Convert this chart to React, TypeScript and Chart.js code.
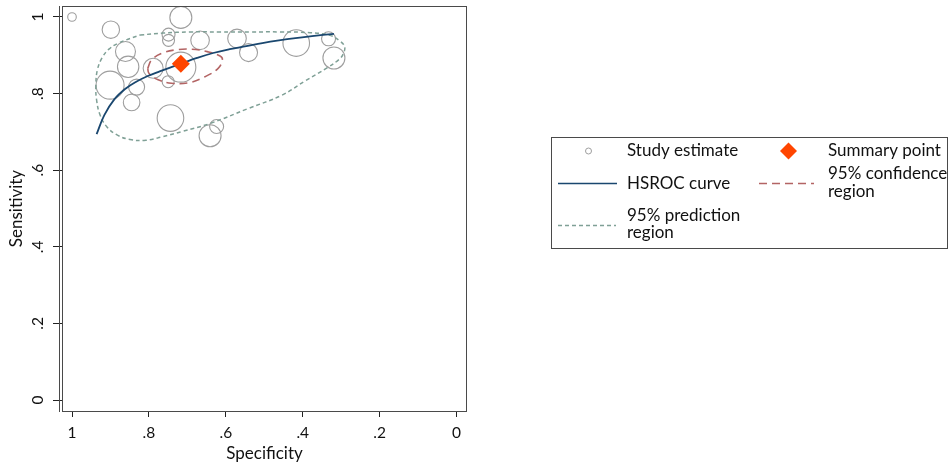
import React, { useEffect, useRef } from "react";
import { Chart, registerables } from "chart.js";

Chart.register(...registerables);

// ---- data ----
const studySpec = [1.0, 0.899, 0.717, 0.749, 0.749, 0.667, 0.571, 0.541, 0.417, 0.333, 0.319, 0.861, 0.854, 0.901, 0.832, 0.845, 0.789, 0.75, 0.717, 0.744, 0.641, 0.624];
const studySens = [1.0, 0.967, 0.999, 0.954, 0.939, 0.939, 0.944, 0.907, 0.932, 0.943, 0.893, 0.91, 0.87, 0.822, 0.817, 0.777, 0.866, 0.831, 0.869, 0.736, 0.69, 0.714];
const studyWeight = [4.3, 8.7, 11, 6.5, 6, 9.3, 9.3, 9, 13.3, 7, 11, 10, 10.7, 14, 8, 8.3, 10, 6, 15, 13.3, 11, 7];

const summarySpec = [0.717];
const summarySens = [0.878];

const hsrocSpec = [0.936, 0.916, 0.89, 0.862, 0.833, 0.803, 0.772, 0.745, 0.717, 0.675, 0.633, 0.59, 0.547, 0.505, 0.462, 0.419, 0.376, 0.319];
const hsrocSens = [0.694, 0.744, 0.785, 0.812, 0.831, 0.846, 0.858, 0.868, 0.878, 0.893, 0.906, 0.916, 0.924, 0.932, 0.939, 0.945, 0.95, 0.956];

const confSpec = [0.803, 0.793, 0.767, 0.732, 0.689, 0.646, 0.615, 0.609, 0.62, 0.654, 0.698, 0.741, 0.776, 0.8, 0.803];
const confSens = [0.866, 0.888, 0.905, 0.914, 0.916, 0.909, 0.898, 0.888, 0.866, 0.844, 0.828, 0.827, 0.836, 0.853, 0.866];

const predSpec = [0.823, 0.763, 0.693, 0.615, 0.537, 0.459, 0.381, 0.329, 0.303, 0.291, 0.295, 0.306, 0.337, 0.394, 0.454, 0.542, 0.641, 0.714, 0.766, 0.808, 0.849, 0.883, 0.909, 0.927, 0.936, 0.938, 0.934, 0.922, 0.904, 0.879, 0.823];
const predSens = [0.953, 0.958, 0.961, 0.961, 0.961, 0.961, 0.959, 0.952, 0.937, 0.922, 0.903, 0.889, 0.867, 0.833, 0.796, 0.761, 0.722, 0.701, 0.687, 0.678, 0.68, 0.692, 0.713, 0.744, 0.783, 0.822, 0.862, 0.893, 0.916, 0.932, 0.953];

const xTicks = [1, 0.8, 0.6, 0.4, 0.2, 0];
const xTickLabels = ["1", ".8", ".6", ".4", ".2", "0"];
const yTicks = [0, 0.2, 0.4, 0.6, 0.8, 1];
const yTickLabels = ["0", ".2", ".4", ".6", ".8", "1"];

const legendLabels = ["Study estimate", "Summary point", "HSROC curve", ["95% confidence", "region"], ["95% prediction", "region"]];

// ---- styles ----
const FONT = "Lato, 'DejaVu Sans', sans-serif";
const TEXT = "#111111";
const CIRCLE = "#9e9e9e";
const NAVY = "#1a476f";
const ORANGE = "#ff4500";
const CONF = "#b36464";
const PRED = "#7fa096";
const FRAME = "#4a4a4a";

const zip = (xs: number[], ys: number[]) => xs.map((x, i) => ({ x, y: ys[i] }));

const decorPlugin = {
  id: "decor",
  afterDraw(chart: any) {
    const ctx = chart.ctx as CanvasRenderingContext2D;
    const { left, top, right, bottom } = chart.chartArea;
    const ys = chart.scales.y;
    ctx.save();
    // plot frame
    ctx.strokeStyle = FRAME;
    ctx.lineWidth = 1;
    ctx.strokeRect(left + 0.5, top + 0.5, right - left - 1, bottom - top);
    // y axis line (offset)
    ctx.beginPath();
    ctx.moveTo(59.5, top);
    ctx.lineTo(59.5, bottom + 1);
    ctx.stroke();
    // y tick labels, rotated
    ctx.fillStyle = TEXT;
    ctx.font = `15.5px ${FONT}`;
    ctx.textAlign = "center";
    ctx.textBaseline = "middle";
    yTicks.forEach((v, i) => {
      const py = ys.getPixelForValue(v);
      ctx.save();
      ctx.translate(38, py);
      ctx.rotate(-Math.PI / 2);
      ctx.fillText(yTickLabels[i], 0, 0);
      ctx.restore();
    });

    // legend
    const lx = 551.5, ly = 137.5, lw = 396, lh = 111;
    ctx.strokeStyle = FRAME;
    ctx.lineWidth = 1;
    ctx.strokeRect(lx, ly, lw, lh);
    ctx.font = `17px ${FONT}`;
    ctx.textAlign = "left";
    ctx.fillStyle = TEXT;

    // row 1
    ctx.strokeStyle = CIRCLE;
    ctx.lineWidth = 1;
    ctx.beginPath();
    ctx.arc(588.5, 151, 3, 0, Math.PI * 2);
    ctx.stroke();
    ctx.fillText(legendLabels[0] as string, 627, 151);
    ctx.fillStyle = ORANGE;
    ctx.beginPath();
    ctx.moveTo(788.5, 142.5);
    ctx.lineTo(797, 151);
    ctx.lineTo(788.5, 159.5);
    ctx.lineTo(780, 151);
    ctx.closePath();
    ctx.fill();
    ctx.fillStyle = TEXT;
    ctx.fillText(legendLabels[1] as string, 828, 151);

    // row 2
    ctx.strokeStyle = NAVY;
    ctx.lineWidth = 1.6;
    ctx.beginPath();
    ctx.moveTo(558, 183.5);
    ctx.lineTo(617, 183.5);
    ctx.stroke();
    ctx.fillText(legendLabels[2] as string, 627, 183.5);
    ctx.strokeStyle = CONF;
    ctx.setLineDash([8, 5]);
    ctx.beginPath();
    ctx.moveTo(759, 183.5);
    ctx.lineTo(814, 183.5);
    ctx.stroke();
    const conf = legendLabels[3] as string[];
    ctx.fillText(conf[0], 828, 174);
    ctx.fillText(conf[1], 828, 192);

    // row 3
    ctx.strokeStyle = PRED;
    ctx.lineWidth = 1.5;
    ctx.setLineDash([4, 3]);
    ctx.beginPath();
    ctx.moveTo(558, 225.5);
    ctx.lineTo(616, 225.5);
    ctx.stroke();
    ctx.setLineDash([]);
    const pred = legendLabels[4] as string[];
    ctx.fillText(pred[0], 627, 216);
    ctx.fillText(pred[1], 627, 233);
    ctx.restore();
  },
};

export default function App() {
  const ref = useRef<HTMLCanvasElement | null>(null);
  useEffect(() => {
    if (!ref.current) return;
    const chart = new Chart(ref.current, {
      type: "scatter",
      data: {
        datasets: [
          {
            type: "scatter",
            label: "Summary point",
            data: zip(summarySpec, summarySens),
            pointStyle: "rectRot",
            pointRadius: 9,
            backgroundColor: ORANGE,
            borderColor: ORANGE,
            borderWidth: 0,
            order: 0,
          } as any,
          {
            type: "scatter",
            label: "HSROC curve",
            data: zip(hsrocSpec, hsrocSens),
            showLine: true,
            pointRadius: 0,
            borderColor: NAVY,
            borderWidth: 1.8,
            tension: 0.4,
            order: 1,
          } as any,
          {
            type: "scatter",
            label: "95% confidence region",
            data: zip(confSpec, confSens),
            showLine: true,
            pointRadius: 0,
            borderColor: CONF,
            borderWidth: 1.6,
            borderDash: [8, 5],
            tension: 0.4,
            order: 2,
          } as any,
          {
            type: "scatter",
            label: "95% prediction region",
            data: zip(predSpec, predSens),
            showLine: true,
            pointRadius: 0,
            borderColor: PRED,
            borderWidth: 1.5,
            borderDash: [4, 3],
            tension: 0.4,
            order: 3,
          } as any,
          {
            type: "bubble",
            label: "Study estimate",
            data: studySpec.map((x, i) => ({ x, y: studySens[i], r: studyWeight[i] })),
            backgroundColor: "rgba(0,0,0,0)",
            borderColor: CIRCLE,
            borderWidth: 1.1,
            order: 4,
          } as any,
        ],
      },
      options: {
        animation: false,
        responsive: false,
        devicePixelRatio: 1,
        layout: { autoPadding: false, padding: { left: 0, top: 6, right: 485, bottom: 0 } },
        plugins: { legend: { display: false }, tooltip: { enabled: false } },
        scales: {
          x: {
            type: "linear",
            reverse: true,
            min: -0.027,
            max: 1.026,
            afterBuildTicks: (s: any) => {
              s.ticks = xTicks.map((value) => ({ value }));
            },
            afterFit: (s: any) => {
              s.height = 57;
            },
            ticks: {
              autoSkip: false,
              maxRotation: 0,
              padding: 7,
              color: TEXT,
              font: { family: FONT, size: 15.5 },
              callback: (v: any) => {
                const i = xTicks.findIndex((t) => Math.abs(t - Number(v)) < 1e-9);
                return i >= 0 ? xTickLabels[i] : "";
              },
            },
            grid: { display: true, drawOnChartArea: false, drawTicks: true, tickLength: 6, color: "#222" },
            border: { display: false },
            title: {
              display: true,
              text: "Specificity",
              color: TEXT,
              font: { family: FONT, size: 17 },
              padding: { top: 0, bottom: 4 },
            },
          },
          y: {
            type: "linear",
            min: -0.0287,
            max: 1.0287,
            afterBuildTicks: (s: any) => {
              s.ticks = yTicks.map((value) => ({ value }));
            },
            afterFit: (s: any) => {
              s.width = 62;
            },
            ticks: { display: false },
            grid: { display: true, drawOnChartArea: false, drawTicks: true, tickLength: 9, color: "#222" },
            border: { display: false },
            title: {
              display: true,
              text: "Sensitivity",
              color: TEXT,
              font: { family: FONT, size: 17 },
              padding: { top: 6, bottom: 0 },
            },
          },
        },
      },
      plugins: [decorPlugin],
    } as any);
    return () => chart.destroy();
  }, []);

  return (
    <div style={{ position: "fixed", left: 0, top: 0, width: 952, height: 468, background: "#fff" }}>
      <canvas ref={ref} width={952} height={468} style={{ width: 952, height: 468, display: "block" }} />
    </div>
  );
}
